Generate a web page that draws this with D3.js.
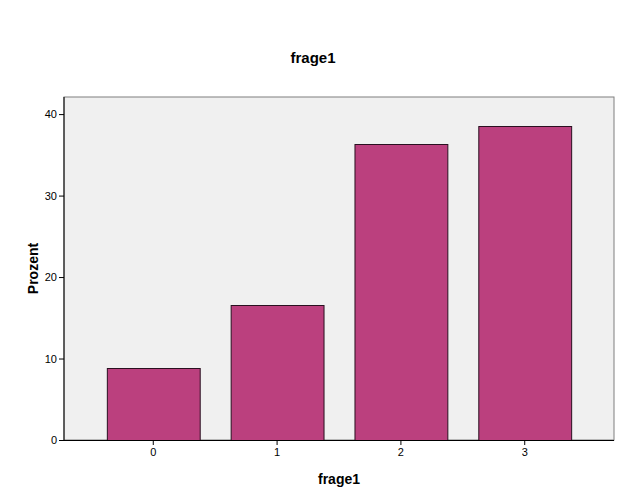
<!DOCTYPE html>
<html><head><meta charset="utf-8">
<script src="https://cdn.jsdelivr.net/npm/d3@7"></script>
<style>body{margin:0;background:#fff}svg{display:block}text{font-family:Arial,"Liberation Sans",sans-serif}</style>
</head><body>
<svg id="c" width="627" height="502"></svg>
<script>
const categories = ["0", "1", "2", "3"];
const values = [8.8, 16.6, 36.3, 38.5];
const yTicks = [0, 10, 20, 30, 40];
const title = "frage1";
const xTitle = "frage1";
const yTitle = "Prozent";

const svg = d3.select("#c");
const L = 64, R = 614, T = 97, B = 440;
const x = d3.scaleBand().domain(categories).range([L, R]).paddingInner(0.25).paddingOuter(0.346);
const y = d3.scaleLinear().domain([0, 42.1]).range([B, T]);

svg.append("rect").attr("x", L).attr("y", T).attr("width", R - L).attr("height", B - T)
  .attr("fill", "#f0f0f0").attr("stroke", "#7f7f7f").attr("stroke-width", 1);

svg.append("g").selectAll("rect").data(values).join("rect")
  .attr("x", (d, i) => x(categories[i]) + 0.5)
  .attr("y", d => Math.round(y(d)) + 0.5)
  .attr("width", x.bandwidth())
  .attr("height", d => B - Math.round(y(d)))
  .attr("fill", "#bb407e").attr("stroke", "#2a1020").attr("stroke-width", 1);

const ya = svg.append("g").attr("transform", `translate(${L},0)`)
  .call(d3.axisLeft(y).tickValues(yTicks).tickSize(5).tickPadding(2).tickFormat(d3.format("d")));
ya.select(".domain").remove();
ya.selectAll("text").attr("font-size", 11).attr("fill", "#000");
ya.selectAll("line").attr("stroke", "#000");
svg.append("line").attr("x1", L).attr("x2", L).attr("y1", T).attr("y2", B + 0.5).attr("stroke", "#000");

const xa = svg.append("g").attr("transform", `translate(0,${B})`)
  .call(d3.axisBottom(x).tickSize(5).tickPadding(3));
xa.select(".domain").remove();
xa.selectAll("text").attr("font-size", 11).attr("fill", "#000");
xa.selectAll("line").attr("stroke", "#000");
svg.append("line").attr("x1", L).attr("x2", R).attr("y1", B + 0.5).attr("y2", B + 0.5).attr("stroke", "#000");

svg.append("text").attr("x", 313).attr("y", 63).attr("text-anchor", "middle")
  .attr("font-size", 15).attr("font-weight", "bold").text(title);
svg.append("text").attr("x", 339).attr("y", 484).attr("text-anchor", "middle")
  .attr("font-size", 14).attr("font-weight", "bold").text(xTitle);
svg.append("text").attr("transform", `translate(38,${(T + B) / 2 + 0}) rotate(-90)`).attr("text-anchor", "middle")
  .attr("font-size", 14).attr("font-weight", "bold").text(yTitle);
</script>
</body></html>
